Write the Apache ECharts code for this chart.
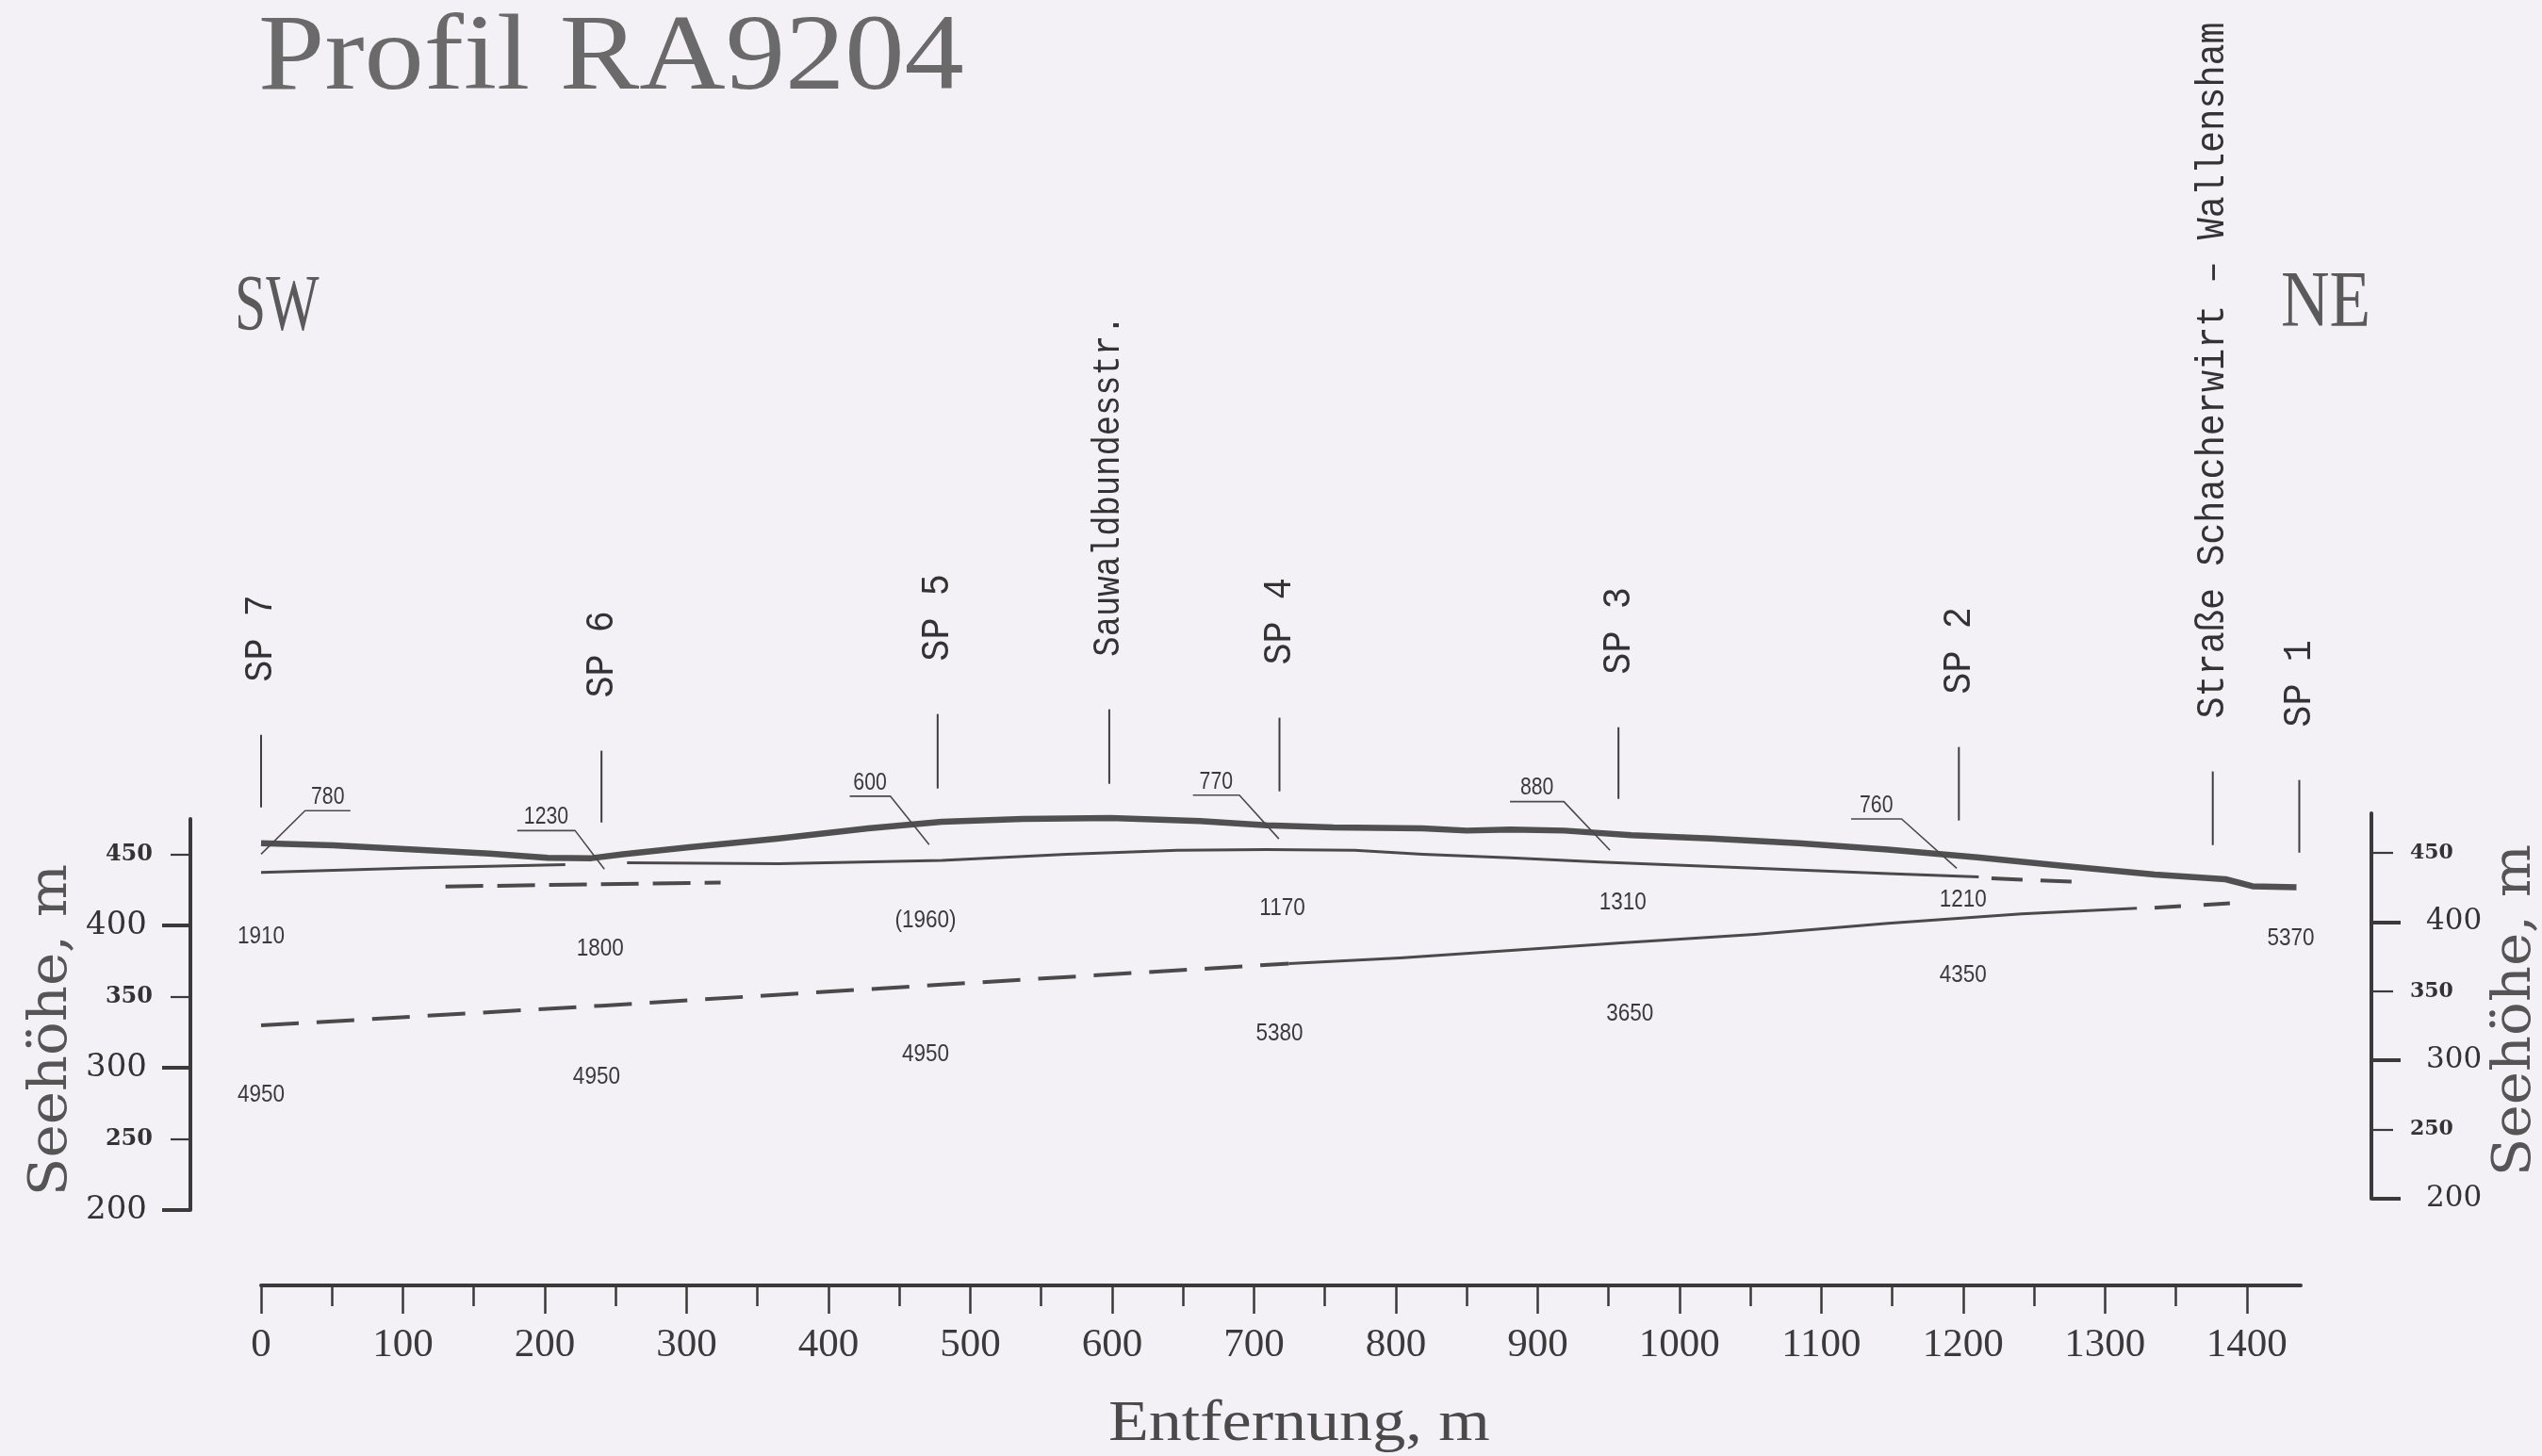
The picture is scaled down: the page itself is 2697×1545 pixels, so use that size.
<!DOCTYPE html>
<html>
<head>
<meta charset="utf-8">
<script src="https://cdn.jsdelivr.net/npm/echarts@6/dist/echarts.min.js"></script>
<style>
html,body{margin:0;padding:0;background:#f3f1f6;}
#c{width:2697px;height:1545px;}
</style>
</head>
<body>
<div id="c"></div>
<script>
// ---------------- DATA ----------------
const xTicks = [0,100,200,300,400,500,600,700,800,900,1000,1100,1200,1300,1400];
const xMinorTicks = [50,150,250,350,450,550,650,750,850,950,1050,1150,1250,1350];
const yMajorTicks = [200,300,400];
const yMinorTicks = [250,350,450];

// topography (thick line): distance m, elevation m
const groundX = [0,51,108,161,202,233,255,302,365,428,480,537,599,662,709,756,819,850,881,919,966,1022,1084,1147,1210,1272,1335,1385,1404,1435];
const groundZ = [458.0,456.4,453.5,450.7,447.6,447.4,450.2,455.1,461.3,468.4,473.0,475.0,475.7,473.5,470.6,469.0,468.4,466.8,467.5,466.8,463.5,461.3,458.0,453.5,448.0,441.8,435.9,432.6,427.7,427.0];

// first refractor (thin line)
const refr1AX = [0,114,214.5];
const refr1AZ = [437.4,440.7,442.9];
const refr1BX = [258,365,480,568,646,709,771,819,881,944,1053,1147,1211];
const refr1BZ = [444.2,443.6,445.8,450.2,452.9,453.5,452.9,450.2,447.6,444.7,440.3,436.5,434.3];
const refr1DashX = [1220,1279];
const refr1DashZ = [433.2,430.8];
const refr1LowX = [130,324];
const refr1LowZ = [427.5,430.3];

// second refractor
const refr2DashAX = [0,240,480,724.6];
const refr2DashAZ = [329.8,343.7,358.5,373.3];
const refr2X = [724.6,803,913,959,1053,1147,1241,1322.5];
const refr2Z = [373.3,377.3,384.7,387.9,393.9,401.6,408.2,412.2];
const refr2DashBX = [1335,1394];
const refr2DashBZ = [412.6,416.0];

// stations / landmarks
const stationNames = ['SP 7','SP 6','SP 5','Sauwaldbundesstr.','SP 4','SP 3','SP 2','Straße Schacherwirt – Wallensham','SP 1'];
const stationX = [0,240,477,598,718,957,1197,1376,1437];
const stationTopZ = [534.2,523.0,548.8,552.1,546.2,539.5,525.6,508.4,502.4];
const stationBottomZ = [483.2,472.5,496.4,499.7,494.4,489.1,473.9,456.6,451.3];

// upper-layer velocities with leader lines
const upperVel = ['780','1230','600','770','880','760'];
const leaderTipX = [0,242,471,717.6,951,1195.5];
const leaderTipZ = [450.2,439.7,457.0,461.0,453.0,440.3];
const leaderElbowX = [31,221.4,443.6,689.7,918.5,1156.6];
const leaderEndX = [63,180.6,415,657,880.5,1121];
const leaderZ = [480.8,466.8,491.0,491.7,487.2,475.0];

// velocities of the deeper layers (m/s) at label anchor
const velLabels = ['1910','1800','(1960)','1170','1310','1210','5370','4950','4950','4950','5380','3650','4350'];
const velX = [0,239,468.5,720,960,1200,1431,0,236.5,468.5,718,965,1200];
const velZ = [392.0,383.7,403.2,411.8,416.0,418.0,391.0,280.9,293.5,309.4,323.8,337.5,365.2];

// ---------------- CHART ----------------
const chart = echarts.init(document.getElementById('c'), null, {renderer:'canvas', width:2697, height:1545});
const ink = '#454545';
const pts = (xs, zs) => xs.map((x,i)=>[x, zs[i]]);
function lineSeries(data, width, type, color, z){
  return {type:'line', data, xAxisIndex:0, yAxisIndex:0, symbol:'none', showSymbol:false,
    clip:false, silent:true, smooth:false, z:z||2,
    lineStyle:{width, color:color||ink, type:type||'solid', cap:'butt', join:'round'}};
}

const series = [];
series.push(lineSeries(pts(refr2DashAX, refr2DashAZ), 4, [40,19], '#4a4a4a'));
series.push(lineSeries(pts(refr2X, refr2Z), 3, 'solid', '#4a4a4a'));
series.push(lineSeries(pts(refr2DashBX, refr2DashBZ), 4, [28,24], '#4a4a4a'));
series.push(lineSeries(pts(refr1AX, refr1AZ), 3, 'solid', '#4a4a4a'));
series.push(lineSeries(pts(refr1BX, refr1BZ), 3, 'solid', '#4a4a4a'));
series.push(lineSeries(pts(refr1DashX, refr1DashZ), 4, [33,19], '#4a4a4a'));
series.push(lineSeries(pts(refr1LowX, refr1LowZ), 4, [40,15], '#4a4a4a'));
series.push(lineSeries(pts(groundX, groundZ), 6.5, 'solid', '#505050', 5));
stationX.forEach((x,i)=>{
  series.push(lineSeries([[x, stationTopZ[i]],[x, stationBottomZ[i]]], 2, 'solid', '#3e3e3e'));
});
upperVel.forEach((v,i)=>{
  series.push(lineSeries([[leaderTipX[i], leaderTipZ[i]],[leaderElbowX[i], leaderZ[i]],[leaderEndX[i], leaderZ[i]]], 1.6, 'solid', '#4a4a4a', 6));
});

const serif = '"DejaVu Serif", serif';
const tSerif = '"Liberation Serif", serif';
const plain = v => String(v);

const option = {
  backgroundColor:'#f3f1f6',
  animation:false,
  grid:[
    {left:277, right:256, top:869, bottom:261, containLabel:false},
    {left:277, right:256, top:863, bottom:273, containLabel:false}
  ],
  xAxis:[
    {type:'value', gridIndex:0, min:0, max:1438, position:'bottom', offset:80,
     axisLine:{show:true, onZero:false, lineStyle:{color:'#3a3a3a', width:4}},
     axisTick:{show:true, customValues:xTicks, length:30, lineStyle:{color:'#3a3a3a', width:2.5}},
     axisLabel:{show:true, customValues:xTicks, formatter:plain, margin:42, fontFamily:tSerif, fontSize:43, color:'#3a3a3a'},
     splitLine:{show:false}},
    {type:'value', gridIndex:0, min:0, max:1438, position:'bottom', offset:80,
     axisLine:{show:false, onZero:false},
     axisTick:{show:true, customValues:xMinorTicks, length:22, lineStyle:{color:'#3a3a3a', width:2.5}},
     axisLabel:{show:false}, splitLine:{show:false}},
    {type:'value', gridIndex:1, min:0, max:1438, show:false}
  ],
  yAxis:[
    {type:'value', gridIndex:0, min:200, max:475, position:'left', offset:75,
     axisLine:{show:true, onZero:false, lineStyle:{color:'#3a3a3a', width:4}},
     axisTick:{show:true, customValues:yMajorTicks, length:30, lineStyle:{color:'#3a3a3a', width:4}},
     axisLabel:{show:true, customValues:yMajorTicks, formatter:plain, margin:46, fontFamily:serif, fontSize:34, color:'#333'},
     splitLine:{show:false}},
    {type:'value', gridIndex:0, min:200, max:475, position:'left', offset:75,
     axisLine:{show:false, onZero:false},
     axisTick:{show:true, customValues:yMinorTicks, length:21, lineStyle:{color:'#3a3a3a', width:2.2}},
     axisLabel:{show:true, customValues:yMinorTicks, formatter:plain, margin:40, fontFamily:serif, fontWeight:'bold', fontSize:24, color:'#333'},
     splitLine:{show:false}},
    {type:'value', gridIndex:1, min:200, max:478.6, position:'right', offset:75,
     axisLine:{show:true, onZero:false, lineStyle:{color:'#3a3a3a', width:4}},
     axisTick:{show:true, customValues:yMajorTicks, length:31, lineStyle:{color:'#3a3a3a', width:4}},
     axisLabel:{show:true, customValues:yMajorTicks, formatter:plain, margin:58, fontFamily:serif, fontSize:31, color:'#333'},
     splitLine:{show:false}},
    {type:'value', gridIndex:1, min:200, max:478.6, position:'right', offset:75,
     axisLine:{show:false, onZero:false},
     axisTick:{show:true, customValues:yMinorTicks, length:23, lineStyle:{color:'#3a3a3a', width:2.2}},
     axisLabel:{show:true, customValues:yMinorTicks, formatter:plain, margin:41, fontFamily:serif, fontWeight:'bold', fontSize:22, color:'#333'},
     splitLine:{show:false}}
  ],
  series
};
chart.setOption(option);

// ---------------- TEXT ANNOTATIONS ----------------
function px(x, z){ return chart.convertToPixel({xAxisIndex:0, yAxisIndex:0}, [x, z]); }
function txt(text, x, y, font, o){
  o = o || {};
  const al = o.align || 'center';
  return {type:'text', x, y, rotation:o.rotation||0, scaleX:o.scaleX||1, scaleY:o.scaleY||1,
    silent:true, z:100,
    style:{text, font, fill:o.fill||'#3c3c3c', align:al, textAlign:al,
      verticalAlign:'middle', textVerticalAlign:'middle'}};
}
const g = [];
// headings
g.push(txt('Profil RA9204', 274, 64, '114px ' + tSerif, {align:'left', scaleX:1.11, fill:'#6a6a6a'}));
g.push(txt('SW', 249, 328, '84px ' + tSerif, {align:'left', scaleX:0.71, fill:'#5a5a5a'}));
g.push(txt('NE', 2420, 324, '84px ' + tSerif, {align:'left', scaleX:0.85, fill:'#5a5a5a'}));
g.push(txt('Entfernung, m', 1176, 1512, '62px ' + tSerif, {align:'left', scaleX:1.13, fill:'#4a4a4a'}));
g.push(txt('Seehöhe, m', 55, 1093, '56px ' + serif, {rotation:Math.PI/2, scaleX:1.06, fill:'#555'}));
g.push(txt('Seehöhe, m', 2669, 1072, '56px ' + serif, {rotation:Math.PI/2, scaleX:1.06, fill:'#555'}));

// station labels (rotated, above marker lines)
stationNames.forEach((name,i)=>{
  const p = px(stationX[i], stationTopZ[i]);
  const size = name.indexOf('Sauwald') === 0 ? 35.5 : 38.5;
  g.push(txt(name, p[0], p[1] - 56, size + 'px "Liberation Mono", monospace',
    {align:'left', rotation:Math.PI/2, scaleY:1.12, fill:'#333'}));
});
// leader velocity labels
upperVel.forEach((v,i)=>{
  const p = px((leaderElbowX[i] + leaderEndX[i]) / 2, leaderZ[i]);
  g.push(txt(v, p[0], p[1] - 14, '25px "Liberation Sans", sans-serif', {scaleX:0.85, fill:'#3a3a3a'}));
});
// layer velocities
velLabels.forEach((v,i)=>{
  const p = px(velX[i], velZ[i]);
  g.push(txt(v, p[0], p[1], '25px "Liberation Sans", sans-serif', {scaleX:0.9, fill:'#3a3a3a'}));
});
chart.setOption({graphic:g});
</script>
</body>
</html>
